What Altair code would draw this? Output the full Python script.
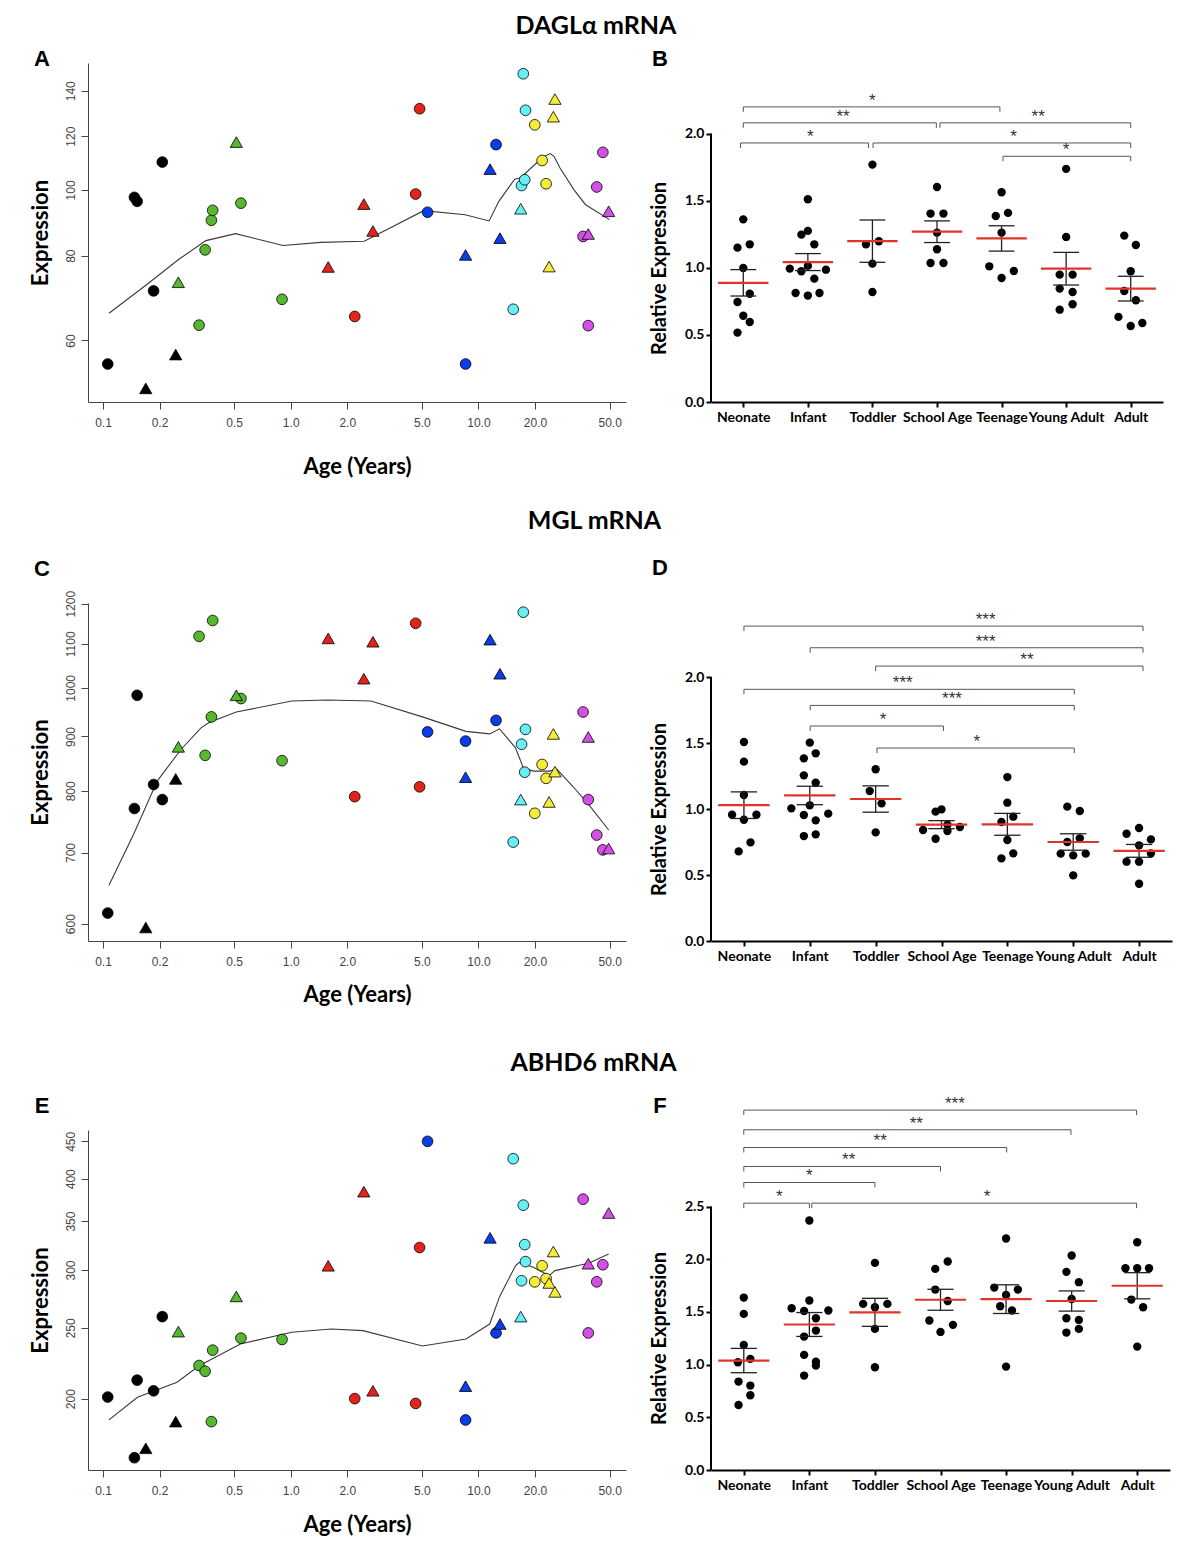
import json
import altair as alt
import pandas as pd

# ---------------- shared categories ----------------
GROUPS = ["Neonate", "Infant", "Toddler", "School Age", "Teenage", "Young Adult", "Adult"]
GROUP_COLORS = ["#000000", "#57B72F", "#E2231C", "#0C3CE3", "#66EFF4", "#F4EC36", "#D34FE6"]
AGE_TICKS = [0.1, 0.2, 0.5, 1, 2, 5, 10, 20, 50]

# ---------------- left panels: individual subjects ----------------
SUBJ_GROUP = ["Neonate", "Neonate", "Neonate", "Neonate", "Neonate", "Neonate", "Neonate",
              "Infant", "Infant", "Infant", "Infant", "Infant", "Infant", "Infant", "Infant",
              "Toddler", "Toddler", "Toddler", "Toddler", "Toddler", "Toddler",
              "School Age", "School Age", "School Age", "School Age", "School Age", "School Age",
              "Teenage", "Teenage", "Teenage", "Teenage", "Teenage", "Teenage",
              "Young Adult", "Young Adult", "Young Adult", "Young Adult", "Young Adult", "Young Adult",
              "Adult", "Adult", "Adult", "Adult", "Adult", "Adult"]
SUBJ_AGE = [0.106, 0.147, 0.152, 0.169, 0.186, 0.207, 0.244,
            0.252, 0.325, 0.350, 0.378, 0.384, 0.513, 0.543, 0.899,
            1.584, 2.193, 2.452, 2.741, 4.63, 4.86,
            5.357, 8.54, 8.54, 11.53, 12.41, 13.02,
            15.32, 16.8, 16.97, 17.34, 17.64, 17.81,
            19.96, 21.84, 22.93, 23.78, 25.07, 25.56,
            36.1, 38.46, 38.46, 42.68, 46.0, 49.4]
SUBJ_SHAPE = ["circle", "circle", "circle", "triangle", "circle", "circle", "triangle",
              "triangle", "circle", "circle", "circle", "circle", "triangle", "circle", "circle",
              "triangle", "circle", "triangle", "triangle", "circle", "circle",
              "circle", "triangle", "circle", "triangle", "circle", "triangle",
              "circle", "triangle", "circle", "circle", "circle", "circle",
              "circle", "circle", "circle", "triangle", "triangle", "triangle",
              "circle", "triangle", "circle", "circle", "circle", "triangle"]
DAGLA_EXPR = [55.4, 97.5, 96.2, 51.0, 71.0, 109.9, 57.2,
              73.1, 63.2, 81.6, 90.2, 93.3, 117.6, 95.6, 69.0,
              77.0, 65.1, 95.3, 87.0, 98.6, 131.7,
              92.7, 80.2, 55.4, 107.3, 116.6, 84.9,
              66.7, 93.8, 101.5, 148.3, 103.5, 131.0,
              124.7, 110.5, 102.1, 77.1, 128.2, 136.1,
              85.4, 86.1, 63.1, 101.0, 113.6, 93.0]
MGL_EXPR = [614, 770, 984, 595, 811, 785, 821,
            880, 1118, 864, 939, 1157, 984, 977, 854,
            1113, 790, 1020, 1105, 1150, 807,
            909, 824, 891, 1110, 932, 1031,
            716, 785, 885, 1178, 833, 914,
            762, 847, 822, 781, 905, 834,
            949, 899, 785, 727, 704, 706]
ABHD6_EXPR = [201, 166, 212, 171, 205, 259, 186,
              247, 222, 218, 186, 233, 276, 242, 241,
              304, 200, 384, 205, 197, 322,
              450, 208, 187, 332, 246, 253,
              426, 259, 290, 368, 325, 308,
              289, 304, 292, 288, 318, 280,
              375, 306, 246, 289, 305, 359]

# smoothed trend lines
DAGLA_FIT_AGE = [0.1076, 0.1706, 0.2516, 0.3535, 0.5084, 0.9101, 1.445, 2.464, 5.11, 8.5, 11.4,
                 12.84, 15.6, 16.8, 19.9, 22.45, 24.1, 25.3, 27.2, 32.3, 37.2, 49.9]
DAGLA_FIT = [65.8, 72.5, 78.9, 84.2, 86.2, 82.8, 83.7, 84.0, 93.2, 91.9, 90.0,
             96.2, 103.7, 104.2, 108.9, 112.0, 113.1, 112.0, 107.7, 100.0, 95.1, 90.4]
MGL_FIT_AGE = [0.1076, 0.1454, 0.1944, 0.2602, 0.3329, 0.3656, 0.513, 1.013, 1.569, 2.676, 5.03,
               8.58, 11.48, 12.96, 15.75, 17.34, 19.6, 23.8, 26.2, 31.8, 38.6, 49.4]
MGL_FIT = [652, 728, 817, 875, 917, 927, 949, 972, 974, 972, 939,
           910, 905, 915, 878, 841, 835, 835, 838, 808, 777, 735]
ABHD6_FIT_AGE = [0.1076, 0.1526, 0.248, 0.3236, 0.539, 1.013, 1.646, 2.428, 5.03, 8.58, 11.48,
                 12.96, 15.75, 16.5, 19.6, 23.8, 25.56, 38.6, 49.4]
ABHD6_FIT = [187, 200.8, 210.6, 221.7, 237.6, 246.5, 249.1, 247.8, 236.1, 241.4, 253,
             275.8, 304, 307.3, 302.5, 294.7, 299.4, 306.4, 315.5]

# ---------------- right panels: qPCR relative expression ----------------
B_CAT = [0, 0, 0, 0, 0, 0, 0, 0, 0,
         1, 1, 1, 1, 1, 1, 1, 1, 1, 1, 1, 1,
         2, 2, 2, 2, 2,
         3, 3, 3, 3, 3, 3, 3,
         4, 4, 4, 4, 4, 4, 4,
         5, 5, 5, 5, 5, 5, 5, 5,
         6, 6, 6, 6, 6, 6, 6, 6]
B_OFF = [0, -0.09, 0.10, 0, 0.10, -0.09, 0, 0.10, -0.09,
         0, -0.10, 0, 0.10, -0.28, -0.10, 0, 0.28, 0.10, -0.19, 0, 0.18,
         0, -0.10, 0.10, 0, 0,
         0, -0.10, 0.10, 0, 0, -0.10, 0.10,
         0, -0.09, 0.10, 0, -0.19, 0, 0.19,
         0, 0, -0.10, 0.10, -0.10, 0.10, -0.10, 0.10,
         -0.10, 0.08, 0, -0.10, 0.08, -0.19, 0, 0.18]
B_VAL = [1.361, 1.150, 1.175, 0.999, 0.807, 0.745, 0.643, 0.596, 0.517,
         1.511, 1.247, 1.275, 1.175, 0.994, 0.974, 1.014, 0.986, 0.919, 0.812, 0.793, 0.812,
         1.769, 1.175, 1.198, 1.031, 0.820,
         1.602, 1.404, 1.404, 1.262, 1.138, 1.036, 1.036,
         1.563, 1.386, 1.409, 1.262, 1.011, 0.924, 0.976,
         1.737, 1.230, 0.949, 0.949, 0.845, 0.820, 0.688, 0.728,
         1.240, 1.170, 0.974, 0.827, 0.758, 0.634, 0.566, 0.589]
B_BR_X1 = [0, 0, 3.046, -0.043, 2.01, 4.022]
B_BR_X2 = [3.974, 2.99, 6.0, 1.94, 6.0, 6.0]
B_BR_Y = [2.199, 2.080, 2.080, 1.930, 1.930, 1.831]
B_STAR_X = [2.0, 1.545, 4.567, 1.039, 4.185, 5.0]
B_STAR = ["*", "**", "**", "*", "*", "*"]

D_CAT = [0, 0, 0, 0, 0, 0, 0, 0,
         1, 1, 1, 1, 1, 1, 1, 1, 1, 1, 1, 1,
         2, 2, 2, 2,
         3, 3, 3, 3, 3, 3, 3,
         4, 4, 4, 4, 4, 4, 4,
         5, 5, 5, 5, 5, 5, 5, 5,
         6, 6, 6, 6, 6, 6, 6, 6]
D_OFF = [0, 0, 0, -0.18, 0.19, 0, 0.10, -0.08,
         0, 0.09, -0.09, -0.09, 0.09, -0.28, 0, -0.09, 0.09, 0.28, -0.09, 0.09,
         0, -0.09, 0.09, 0,
         -0.09, 0, -0.28, 0.09, -0.09, 0.09, 0.28,
         0, 0, -0.09, 0.09, 0, -0.09, 0.09,
         -0.09, 0.10, -0.09, 0.10, -0.19, 0, 0.19, 0,
         -0.19, 0, 0.18, 0, -0.19, 0, 0.18, 0]
D_VAL = [1.508, 1.359, 1.106, 0.957, 0.957, 0.919, 0.747, 0.679,
         1.503, 1.422, 1.384, 1.255, 1.199, 1.005, 1.028, 0.955, 0.914, 0.965, 0.795, 0.808,
         1.301, 1.136, 1.043, 0.823,
         0.980, 0.997, 0.841, 0.881, 0.775, 0.833, 0.864,
         1.242, 1.048, 0.902, 0.942, 0.765, 0.626, 0.664,
         1.018, 0.985, 0.750, 0.778, 0.662, 0.649, 0.662, 0.497,
         0.813, 0.856, 0.770, 0.725, 0.601, 0.601, 0.664, 0.434]
D_BR_X1 = [0, 1.006, 2.0, 0, 1.006, 1.006, 2.02]
D_BR_X2 = [6.06, 6.06, 6.06, 5.016, 5.016, 3.03, 5.016]
D_BR_Y = [2.386, 2.222, 2.083, 1.907, 1.785, 1.629, 1.462]
D_STAR_X = [3.67, 3.67, 4.298, 2.411, 3.16, 2.112, 3.538]
D_STAR = ["***", "***", "**", "***", "***", "*", "*"]

F_CAT = [0, 0, 0, 0, 0, 0, 0, 0, 0,
         1, 1, 1, 1, 1, 1, 1, 1, 1, 1, 1, 1,
         2, 2, 2, 2, 2, 2,
         3, 3, 3, 3, 3, 3, 3,
         4, 4, 4, 4, 4, 4, 4,
         5, 5, 5, 5, 5, 5, 5, 5,
         6, 6, 6, 6, 6, 6, 6]
F_OFF = [0, 0, 0, -0.09, 0.10, -0.08, 0.10, 0.10, -0.08,
         0, 0, -0.27, -0.08, 0.29, 0.10, 0.10, -0.08, -0.08, 0.10, 0.10, -0.08,
         0, -0.18, 0, 0.19, 0, 0,
         0.11, -0.08, -0.08, 0.11, -0.17, 0.19, 0,
         0, -0.18, 0, 0.18, -0.09, 0.09, 0,
         0, -0.08, 0.11, 0, -0.08, 0.11, -0.08, 0.11,
         0, -0.18, 0, 0.18, -0.09, 0.09, 0]
F_VAL = [1.636, 1.481, 1.187, 1.022, 1.054, 0.839, 0.801, 0.709, 0.617,
         2.367, 1.608, 1.535, 1.509, 1.513, 1.440, 1.323, 1.266, 1.092, 1.028, 0.991, 0.896,
         1.965, 1.576, 1.544, 1.576, 1.339, 0.975,
         1.978, 1.908, 1.712, 1.604, 1.418, 1.377, 1.310,
         2.196, 1.731, 1.661, 1.712, 1.554, 1.513, 0.981,
         2.035, 1.880, 1.782, 1.623, 1.440, 1.424, 1.304, 1.339,
         2.161, 1.915, 1.915, 1.915, 1.617, 1.544, 1.171]
F_BR_X1 = [0, 0, 0, 0, 0, 0, 1.037]
F_BR_X2 = [5.99, 4.99, 4.01, 3.0, 2.0, 1.0, 5.99]
F_BR_Y = [3.415, 3.228, 3.060, 2.880, 2.728, 2.532, 2.532]
F_STAR_X = [3.22, 2.63, 2.08, 1.6, 1.0, 0.54, 3.71]
F_STAR = ["***", "**", "**", "**", "*", "*", "*"]

LEFT_W = 538
AXIS_GREY = "#444444"
BOLD_FONT = "Lato"


def left_panel(expr, fit_age, fit_val, ydom, yticks, height, letter, letter_y, xtitle_pad):
    pts = pd.DataFrame({"age": SUBJ_AGE, "expr": expr, "group": SUBJ_GROUP, "shape": SUBJ_SHAPE})
    fit = pd.DataFrame({"age": fit_age, "expr": fit_val})
    xs = alt.Scale(type="log", domain=[0.0832, 61.1], nice=False)
    ys = alt.Scale(type="log", domain=ydom, nice=False)
    xax = alt.Axis(values=AGE_TICKS, format=".1f", title="Age (Years)", titleFont=BOLD_FONT,
                   titleFontSize=22, titleFontWeight="bold", titleColor="black",
                   titlePadding=xtitle_pad, labelFont="Liberation Sans", labelFontSize=12,
                   labelColor=AXIS_GREY, labelPadding=8, tickColor=AXIS_GREY, tickSize=7,
                   tickWidth=1, domainColor=AXIS_GREY, domainWidth=1, grid=False,
                   labelFlush=False, labelOverlap=False)
    yax = alt.Axis(values=yticks, format="d", title="Expression", titleX=-48, titleY=height / 2,
                   titleAngle=270, titleAlign="center", titleBaseline="middle", titleFont=BOLD_FONT,
                   titleFontSize=22, titleFontWeight="bold", titleColor="black",
                   labelAngle=270, labelAlign="center", labelBaseline="alphabetic",
                   labelPadding=7, labelFont="Liberation Sans", labelFontSize=12,
                   labelColor=AXIS_GREY, tickColor=AXIS_GREY, tickSize=7, tickWidth=1,
                   domainColor=AXIS_GREY, domainWidth=1, grid=False, labelOverlap=False,
                   labelFlush=False)
    X = alt.X("age:Q", scale=xs, axis=xax)
    Y = alt.Y("expr:Q", scale=ys, axis=yax)
    fill = alt.Fill("group:N", scale=alt.Scale(domain=GROUPS, range=GROUP_COLORS), legend=None)
    line = alt.Chart(fit).mark_line(color="#3a3a3a", strokeWidth=1.1).encode(x=X, y=Y)
    circ = alt.Chart(pts).transform_filter(alt.datum.shape == "circle").mark_point(
        shape="circle", filled=True, size=115, stroke="black", strokeWidth=0.8, opacity=1
    ).encode(x=X, y=Y, fill=fill)
    tri = alt.Chart(pts).transform_filter(alt.datum.shape == "triangle").mark_point(
        shape="triangle-up", filled=True, size=150, stroke="black", strokeWidth=0.8, opacity=1
    ).encode(x=X, y=Y, fill=fill)
    let = alt.Chart(pd.DataFrame({"t": [letter]})).mark_text(
        font="Liberation Sans", fontSize=22, fontWeight="bold", align="center",
        baseline="middle", color="black"
    ).encode(text="t:N", x=alt.value(-46), y=alt.value(letter_y))
    return alt.layer(line, circ, tri, let).properties(width=LEFT_W, height=height)


def right_panel(cats, offs, vals, ytop, tick_max, yticks, height, width,
                br_x1, br_x2, br_y, star_x, stars, letter, letter_y, title_y):
    df = pd.DataFrame({"cat": cats, "off": offs, "v": vals})
    xs = alt.Scale(domain=[-0.5, 6.5], nice=False, zero=False)
    ys = alt.Scale(domain=[0, ytop], nice=False, zero=False)
    label_expr = json.dumps(GROUPS) + "[datum.value]"
    xax = alt.Axis(values=list(range(len(GROUPS))), labelExpr=label_expr, title=None,
                   labelFont=BOLD_FONT, labelFontSize=14, labelFontWeight="bold",
                   labelColor="black", labelPadding=3, tickColor="black", tickSize=5,
                   tickWidth=2, domainColor="black", domainWidth=2, grid=False,
                   labelOverlap=False, labelFlush=False, labelBound=False)
    yax = alt.Axis(values=yticks, format=".1f", title="Relative Expression", titleX=-52,
                   titleY=title_y, titleAngle=270, titleAlign="center", titleBaseline="middle",
                   titleFont=BOLD_FONT, titleFontSize=20, titleFontWeight="bold",
                   titleColor="black", labelFont=BOLD_FONT, labelFontSize=14,
                   labelFontWeight="bold", labelColor="black", labelPadding=2,
                   tickColor="black", tickSize=5, tickWidth=2, domain=False, grid=False,
                   labelOverlap=False, labelFlush=False)

    def X(f):
        return alt.X(f, type="quantitative", scale=xs, axis=xax)

    def Y(f):
        return alt.Y(f, type="quantitative", scale=ys, axis=yax)

    pts = alt.Chart(df).transform_calculate(px="datum.cat + datum.off").mark_circle(
        size=70, color="black", opacity=1
    ).encode(x=X("px"), y=Y("v"))
    stats = alt.Chart(df).transform_aggregate(
        m="mean(v)", se="stderr(v)", groupby=["cat"]
    ).transform_calculate(
        lo="datum.m - datum.se", hi="datum.m + datum.se",
        xl="datum.cat - 0.39", xr="datum.cat + 0.39",
        cl="datum.cat - 0.2", cr="datum.cat + 0.2"
    )
    vert = stats.mark_rule(color="#222222", strokeWidth=1.3).encode(x=X("cat"), y=Y("lo"), y2="hi:Q")
    cap_lo = stats.mark_rule(color="#222222", strokeWidth=1.3).encode(x=X("cl"), x2="cr:Q", y=Y("lo"))
    cap_hi = stats.mark_rule(color="#222222", strokeWidth=1.3).encode(x=X("cl"), x2="cr:Q", y=Y("hi"))
    mean = stats.mark_rule(color="#E0342A", strokeWidth=2.2).encode(x=X("xl"), x2="xr:Q", y=Y("m"))

    br = pd.DataFrame({"x1": br_x1, "x2": br_x2, "y": br_y})
    hline = alt.Chart(br).mark_rule(color="#555555", strokeWidth=1).encode(x=X("x1"), x2="x2:Q", y=Y("y"))
    lt = alt.Chart(br).mark_rule(color="#555555", strokeWidth=1, y2Offset=5).encode(
        x=X("x1"), y=Y("y"), y2="y:Q")
    rt = alt.Chart(br).mark_rule(color="#555555", strokeWidth=1, y2Offset=5).encode(
        x=X("x2"), y=Y("y"), y2="y:Q")
    st = pd.DataFrame({"sx": star_x, "y": br_y, "s": stars})
    star = alt.Chart(st).mark_text(font="Liberation Sans", fontSize=17, color="#333333",
                                   baseline="alphabetic", dy=-1).encode(
        x=X("sx"), y=Y("y"), text="s:N")
    axis_line = alt.Chart(pd.DataFrame({"y0": [0.0], "y1": [tick_max]})).mark_rule(
        color="black", strokeWidth=2).encode(x=alt.value(0), y=Y("y0"), y2="y1:Q")
    let = alt.Chart(pd.DataFrame({"t": [letter]})).mark_text(
        font="Liberation Sans", fontSize=22, fontWeight="bold", align="center",
        baseline="middle", color="black"
    ).encode(text="t:N", x=alt.value(-51), y=alt.value(letter_y))
    return alt.layer(pts, vert, cap_lo, cap_hi, mean, hline, lt, rt, star, axis_line, let).properties(
        width=width, height=height)


A = left_panel(DAGLA_EXPR, DAGLA_FIT_AGE, DAGLA_FIT, [48.7, 153.8], [60, 80, 100, 120, 140],
               339, "A", -4, 28)
B = right_panel(B_CAT, B_OFF, B_VAL, 2.526, 2.0, [0, 0.5, 1.0, 1.5, 2.0], 339, 452,
                B_BR_X1, B_BR_X2, B_BR_Y, B_STAR_X, B_STAR, "B", -4, 205)
C = left_panel(MGL_EXPR, MGL_FIT_AGE, MGL_FIT, [577.9, 1201.7], [600, 700, 800, 900, 1000, 1100, 1200],
               338, "C", -34, 17)
D = right_panel(D_CAT, D_OFF, D_VAL, 2.561, 2.0, [0, 0.5, 1.0, 1.5, 2.0], 338, 461,
                D_BR_X1, D_BR_X2, D_BR_Y, D_STAR_X, D_STAR, "D", -35, 206)
E = left_panel(ABHD6_EXPR, ABHD6_FIT_AGE, ABHD6_FIT, [159.7, 466.4], [200, 250, 300, 350, 400, 450],
               340, "E", -24, 18)
F = right_panel(F_CAT, F_OFF, F_VAL, 3.226, 2.5, [0, 0.5, 1.0, 1.5, 2.0, 2.5], 340, 459,
                F_BR_X1, F_BR_X2, F_BR_Y, F_STAR_X, F_STAR, "F", -24, 208)


def row_title(text, offset, dx):
    return alt.TitleParams(text, font=BOLD_FONT, fontSize=25, fontWeight="bold", color="black",
                           anchor="middle", offset=offset, dx=dx)


row1 = alt.hconcat(A, B, spacing=23).properties(title=row_title("DAGLα mRNA", 9, 0))
row2 = alt.hconcat(C, D, spacing=23).properties(title=row_title("MGL mRNA", 23, -6))
row3 = alt.hconcat(E, F, spacing=23).properties(title=row_title("ABHD6 mRNA", 19, -6))

top = alt.vconcat(row1, row2, spacing=32)
chart = alt.vconcat(top, row3, spacing=46).properties(
    padding={"left": 21, "top": 6, "right": 5, "bottom": 5}
).configure_view(stroke=None).configure_axis(grid=False)

chart.save("out.html", embed_options={"renderer": "svg", "actions": False})
